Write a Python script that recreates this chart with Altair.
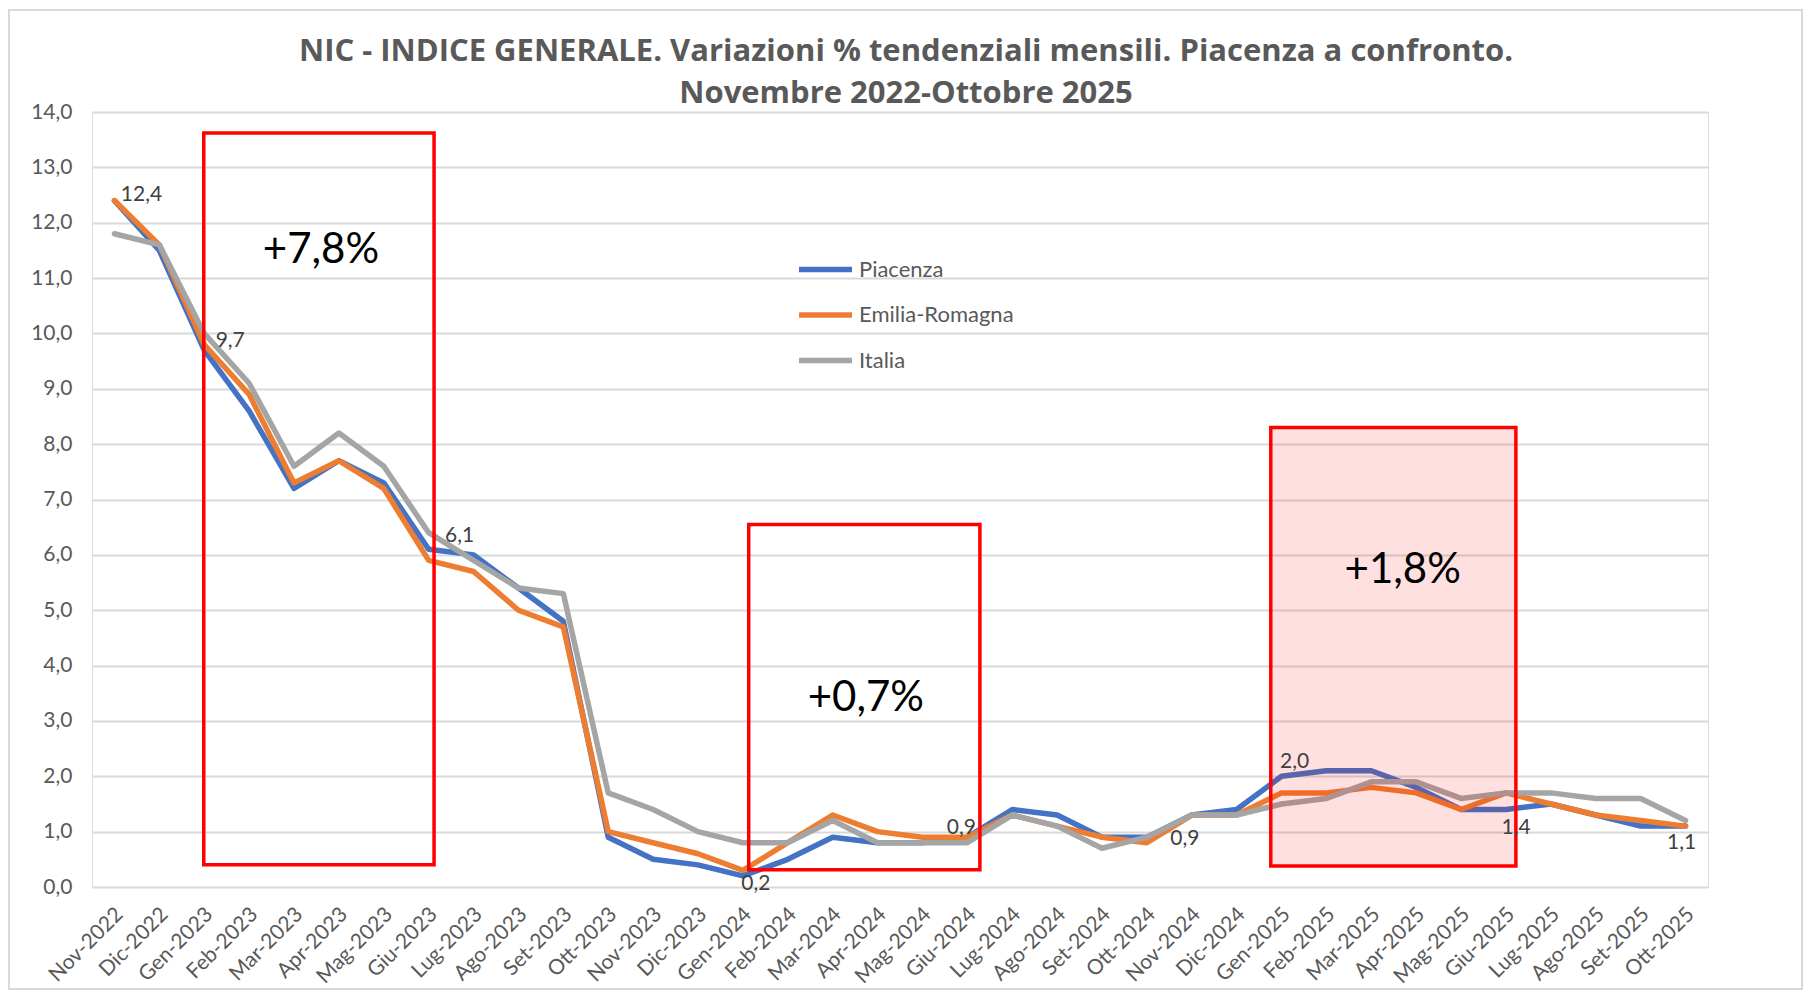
import altair as alt
import pandas as pd

months = ["Nov-2022", "Dic-2022", "Gen-2023", "Feb-2023", "Mar-2023", "Apr-2023",
          "Mag-2023", "Giu-2023", "Lug-2023", "Ago-2023", "Set-2023", "Ott-2023",
          "Nov-2023", "Dic-2023", "Gen-2024", "Feb-2024", "Mar-2024", "Apr-2024",
          "Mag-2024", "Giu-2024", "Lug-2024", "Ago-2024", "Set-2024", "Ott-2024",
          "Nov-2024", "Dic-2024", "Gen-2025", "Feb-2025", "Mar-2025", "Apr-2025",
          "Mag-2025", "Giu-2025", "Lug-2025", "Ago-2025", "Set-2025", "Ott-2025"]

piacenza = [12.4, 11.5, 9.7, 8.6, 7.2, 7.7, 7.3, 6.1, 6.0, 5.4, 4.8, 0.9,
            0.5, 0.4, 0.2, 0.5, 0.9, 0.8, 0.8, 0.9, 1.4, 1.3, 0.9, 0.9,
            1.3, 1.4, 2.0, 2.1, 2.1, 1.8, 1.4, 1.4, 1.5, 1.3, 1.1, 1.1]
emilia = [12.4, 11.6, 9.8, 8.9, 7.3, 7.7, 7.2, 5.9, 5.7, 5.0, 4.7, 1.0,
          0.8, 0.6, 0.3, 0.8, 1.3, 1.0, 0.9, 0.9, 1.3, 1.1, 0.9, 0.8,
          1.3, 1.3, 1.7, 1.7, 1.8, 1.7, 1.4, 1.7, 1.5, 1.3, 1.2, 1.1]
italia = [11.8, 11.6, 10.0, 9.1, 7.6, 8.2, 7.6, 6.4, 5.9, 5.4, 5.3, 1.7,
          1.4, 1.0, 0.8, 0.8, 1.2, 0.8, 0.8, 0.8, 1.3, 1.1, 0.7, 0.9,
          1.3, 1.3, 1.5, 1.6, 1.9, 1.9, 1.6, 1.7, 1.7, 1.6, 1.6, 1.2]

series_names = ["Piacenza", "Emilia-Romagna", "Italia"]
series_colors = ["#4472C4", "#ED7D31", "#A5A5A5"]

# Piacenza data labels (month index)
label_idx = [0, 2, 7, 14, 19, 23, 26, 31, 35]

# highlighted periods (month index range, value range) and their annotation
box_x1 = [1.99, 14.13, 25.76]
box_x2 = [7.12, 19.28, 31.22]
box_y1 = [0.40, 0.31, 0.38]
box_y2 = [13.62, 6.55, 8.30]
box_fill_op = [0.0, 0.0, 0.12]
box_text = ["+7,8%", "+0,7%", "+1,8%"]
box_text_x = [4.6, 16.74, 28.7]
box_text_y = [11.5, 3.41, 5.73]

title_lines = ["NIC - INDICE GENERALE. Variazioni % tendenziali mensili. Piacenza a confronto.",
               "Novembre 2022-Ottobre 2025"]

# ---------------------------------------------------------------
FONT = "Lato"
rows = []
for name, vals in zip(series_names, [piacenza, emilia, italia]):
    for i, v in enumerate(vals):
        rows.append({"i": i, "v": v, "serie": name})
df = pd.DataFrame(rows)

boxes = pd.DataFrame({"x1": box_x1, "x2": box_x2, "y1": box_y1, "y2": box_y2,
                      "op": box_fill_op})
btext = pd.DataFrame({"x": box_text_x, "y": box_text_y, "t": box_text})

month_expr = "[" + ",".join("'" + m + "'" for m in months) + "][datum.value]"

x_scale = alt.Scale(domain=[-0.5, 35.5], nice=False, zero=False)
y_scale = alt.Scale(domain=[0, 14], nice=False)

x_axis = alt.Axis(values=list(range(len(months))), labelExpr=month_expr, labelAngle=-45,
                  labelAlign="right", labelBaseline="middle", labelPadding=24,
                  labelOffset=5,
                  labelOverlap=False, labelFlush=False, labelBound=False,
                  labelFont=FONT, labelFontSize=21, labelColor="#595959",
                  domain=False, ticks=False, grid=False, title=None)
y_axis = alt.Axis(values=list(range(15)),
                  labelExpr="replace(format(datum.value, '.1f'), '.', ',')",
                  labelFont=FONT, labelFontSize=21, labelColor="#595959",
                  labelPadding=20, domain=False, ticks=False, grid=True,
                  gridColor="#D9D9D9", gridWidth=2, title=None)

# light border of the whole chart area
frame = alt.Chart(pd.DataFrame({"a": [0]})).mark_rect(
    fillOpacity=0, stroke="#D9D9D9", strokeWidth=2
).encode(x=alt.value(-83), x2=alt.value(1710), y=alt.value(-102), y2=alt.value(877))

lines = alt.Chart(df).mark_line(strokeWidth=5.5, strokeJoin="round", strokeCap="round").encode(
    x=alt.X("i:Q", scale=x_scale, axis=x_axis),
    y=alt.Y("v:Q", scale=y_scale, axis=y_axis),
    color=alt.Color("serie:N", sort=series_names,
                    scale=alt.Scale(domain=series_names, range=series_colors),
                    legend=alt.Legend(orient="none", legendX=704, legendY=128, title=None,
                                      symbolType="stroke", symbolSize=2809,
                                      symbolStrokeWidth=5.5, labelFont=FONT,
                                      labelFontSize=22, labelColor="#595959",
                                      labelOffset=4, rowPadding=4.5, padding=0)),
    order=alt.Order("i:Q"),
)

rects = alt.Chart(boxes).mark_rect(stroke="#FF0000", strokeWidth=3.5, fill="#FF0000").encode(
    x=alt.X("x1:Q", scale=x_scale),
    x2="x2:Q",
    y=alt.Y("y1:Q", scale=y_scale),
    y2="y2:Q",
    fillOpacity=alt.FillOpacity("op:Q", scale=None),
)

rect_text = alt.Chart(btext).mark_text(font=FONT, fontSize=42, color="#000000",
                                       align="center", baseline="middle").encode(
    x=alt.X("x:Q", scale=x_scale),
    y=alt.Y("y:Q", scale=y_scale),
    text="t:N",
)

label_offsets = {0: (27, -6), 2: (26, -9), 7: (31, -13), 14: (13, 8), 19: (-6, -9),
                 23: (38, 2), 26: (13, -14), 31: (10, 18), 35: (-4, 17)}
label_layers = []
for idx in label_idx:
    ddx, ddy = label_offsets[idx]
    ldf = pd.DataFrame({"i": [idx], "v": [piacenza[idx]],
                        "t": [("%.1f" % piacenza[idx]).replace(".", ",")]})
    label_layers.append(
        alt.Chart(ldf).mark_text(font=FONT, fontSize=21, color="#404040", align="center",
                                 baseline="middle", dx=ddx, dy=ddy).encode(
            x=alt.X("i:Q", scale=x_scale),
            y=alt.Y("v:Q", scale=y_scale),
            text="t:N",
        )
    )

chart = alt.layer(frame, lines, rects, rect_text, *label_layers).properties(
    width=1616, height=775,
    padding={"left": 84, "top": 104, "right": 97, "bottom": 105},
    autosize="none",
    title=alt.TitleParams(text=title_lines, font="Open Sans", fontSize=31, fontWeight="bold",
                          color="#595959", anchor="middle", frame="group", offset=-101,
                          lineHeight=42, dx=6),
).configure_view(stroke=None).configure(background="white")

chart.save("out.html", embed_options={"renderer": "svg", "actions": False})
